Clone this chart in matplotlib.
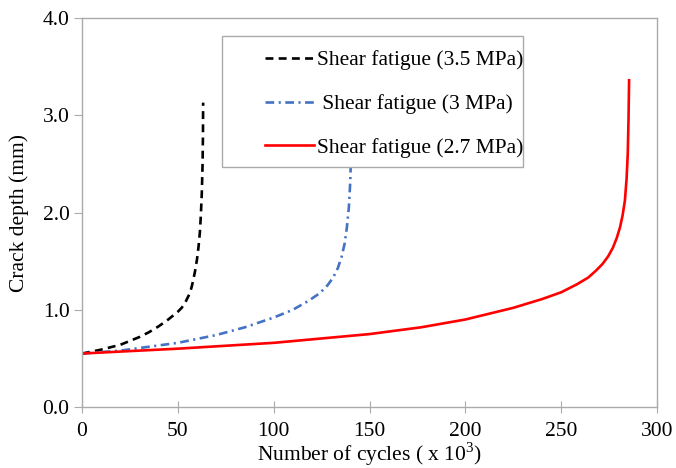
import matplotlib.pyplot as plt
from matplotlib.patches import Rectangle

plt.rcParams['font.family'] = ['Liberation Serif', 'DejaVu Serif']
plt.rcParams['mathtext.fontset'] = 'custom'
plt.rcParams['mathtext.rm'] = 'Liberation Serif'

# crack growth curves (cycles in thousands, depth in mm)
cycles_35 = [0, 10, 20, 30, 35, 40, 45, 50, 52, 54, 56, 57, 58, 59, 60, 60.8, 61.5, 62, 62.5, 62.9, 63.1, 63.2]
depth_35 = [0.55, 0.59, 0.64, 0.72, 0.77, 0.83, 0.90, 0.98, 1.02, 1.08, 1.16, 1.22, 1.30, 1.40, 1.52, 1.65, 1.80, 1.97, 2.20, 2.50, 2.80, 3.13]

cycles_30 = [0, 20, 35, 50, 70, 85, 100, 110, 118, 124, 128, 131, 133.5, 135.5, 137, 138.2, 139.2, 139.9, 140.3, 140.6]
depth_30 = [0.55, 0.58, 0.62, 0.66, 0.74, 0.82, 0.92, 1.00, 1.09, 1.17, 1.25, 1.33, 1.43, 1.55, 1.68, 1.85, 2.05, 2.30, 2.55, 2.85]

cycles_27 = [0, 50, 100, 150, 177, 200, 225, 240, 250, 258, 264, 268, 271.5, 274.5, 277, 279, 280.7, 282, 283.2, 284.1, 284.7, 285.1, 285.4]
depth_27 = [0.55, 0.60, 0.66, 0.75, 0.82, 0.90, 1.02, 1.11, 1.18, 1.26, 1.33, 1.40, 1.47, 1.55, 1.64, 1.74, 1.85, 1.97, 2.12, 2.35, 2.60, 2.95, 3.36]

labels = ['Shear fatigue (3.5 MPa)', ' Shear fatigue (3 MPa)', 'Shear fatigue (2.7 MPa)']

fig = plt.figure(figsize=(6.76, 4.68), dpi=100)
ax = fig.add_axes([0.1213, 0.1303, 0.8507, 0.8312])

l1, = ax.plot(cycles_35, depth_35, color='black', lw=1.9, dashes=(3, 2))
l2, = ax.plot(cycles_30, depth_30, color='#4472c4', lw=1.9, dashes=(3.3, 1.7, 0.8, 1.7))
l3, = ax.plot(cycles_27, depth_27, color='#ff0000', lw=1.9)

ax.set_xlim(0, 300)
ax.set_ylim(0, 4.0)
ax.set_xticks(range(0, 301, 50))
ax.set_yticks([0, 1, 2, 3, 4])
ax.set_yticklabels(['0.0', '1.0', '2.0', '3.0', '4.0'])

for s in ax.spines.values():
    s.set_color('#aaaaaa')
    s.set_linewidth(1.0)
ax.tick_params(axis='x', direction='inout', length=9, color='#aaaaaa', labelsize=15.5, pad=6)
ax.tick_params(axis='y', direction='out', length=6, color='#aaaaaa', labelsize=15.5, pad=3)

ax.set_xlabel('Number of cycles ( x 10$^3$)', fontsize=15.5, labelpad=0)
ax.set_ylabel('Crack depth (mm)', fontsize=15.5, labelpad=10)

# legend box drawn over the curves
box = Rectangle((0.243, 0.617), 0.524, 0.337, transform=ax.transAxes,
                facecolor='white', edgecolor='#aaaaaa', lw=1.0, zorder=5)
ax.add_patch(box)
leg = ax.legend([l1, l2, l3], labels, loc='upper left', bbox_to_anchor=(0.318, 0.917),
                frameon=False, fontsize=15.5, borderpad=0, borderaxespad=0,
                handlelength=2.3, handletextpad=0.1, labelspacing=1.1)
leg.set_zorder(6)

fig.savefig('out.png', dpi=100)
